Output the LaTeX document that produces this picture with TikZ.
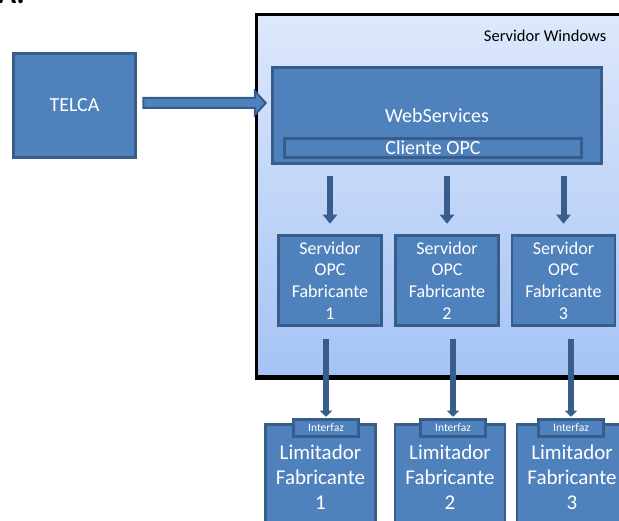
\documentclass[tikz,border=0pt]{standalone}
\usepackage{fontspec}
\setmainfont{Carlito}
\usetikzlibrary{arrows.meta,calc}

\definecolor{officeblue}{HTML}{4F81BD}
\definecolor{officeline}{HTML}{385D8A}
\definecolor{wintop}{HTML}{DDE8FB}
\definecolor{winbot}{HTML}{A5C3F5}

\newcommand{\fsz}[2]{\fontsize{#1}{#2}\selectfont}

\begin{document}
\begin{tikzpicture}[x=1pt,y=-1pt,
  blockbox/.style={draw=officeline, fill=officeblue, line width=2.5pt,
    text=white, inner sep=0pt, align=center},
  winframe/.style={draw=black, line width=3pt, top color=wintop,
    bottom color=winbot, inner sep=0pt},
  fatarrow/.style={draw=officeline, fill=officeblue, line width=2pt,
    line join=miter},
  feed/.style={draw=officeline, line width=6pt,
    -{Triangle[width=14pt,length=9pt]}, shorten <=11.5pt, shorten >=10.5pt},
  link/.style={draw=officeline, line width=5.5pt,
    -{Triangle[width=12pt,length=6pt]}, shorten <=12.5pt, shorten >=1.5pt}]

\useasboundingbox (0,0) rectangle (619,521);
\clip (0,0) rectangle (619,521);

% heading cut off at the top
\node[anchor=base west, inner sep=0pt, font=\bfseries\fsz{30}{36}] (head) at (-2,4) {A.};

% windows server frame
\node[winframe, minimum width=383.5pt, minimum height=362pt] (win) at (448.25,195.5) {};
\draw[line width=5pt] (win.south west) -- (win.south east);
\node[anchor=east, inner sep=0pt, font=\fsz{16.5}{20}] (winlabel) at (606.5,35.5) {Servidor Windows};

\node[blockbox, minimum width=122pt, minimum height=104pt, font=\fsz{20}{24}] (telca) at (74.5,105.5) {TELCA};

\node[blockbox, minimum width=329pt, minimum height=96pt, font=\fsz{20}{24}] (web) at (437,115.5) {WebServices};
\node[blockbox, minimum width=297pt, minimum height=19pt,
  label={[text=white, font=\fsz{20}{24}]center:Cliente OPC}] (cliente) at (433,148) {};

% opc servers and the limiters below
\foreach \i/\x in {1/330,2/447,3/563.5}
  \node[blockbox, minimum width=103pt, minimum height=90pt, font=\fsz{18}{21.7}] (opc\i) at (\x,280.5) {Servidor\\OPC\\Fabricante\\\i};

\foreach \i/\x/\tx in {1/320.5/326,2/450/453,3/572/571} {
  \node[blockbox, minimum width=110pt, minimum height=105pt, font=\fsz{21}{25}] (lim\i) at (\x,477) {Limitador\\Fabricante\\\i};
  \node[blockbox, minimum width=65pt, minimum height=17pt, font=\fsz{11.5}{13}] (tab\i) at (\tx,428) {Interfaz};
}

% telca to webservices
\coordinate (fa) at ($(telca.east)+(6.5,-2.5)$);
\coordinate (fb) at ($(web.west |- fa)+(-5.5,0)$);
\filldraw[fatarrow] ($(fa)+(0,-5)$) -- ($(fb)+(-11,-5)$) -- ($(fb)+(-11,-12)$) -- (fb)
  -- ($(fb)+(-11,12)$) -- ($(fb)+(-11,5)$) -- ($(fa)+(0,5)$) -- cycle;

\foreach \i in {1,2,3} {
  \draw[feed] (web.south -| opc\i.north) -- (opc\i.north);
  \draw[link] (tab\i.north |- opc\i.south) -- (tab\i.north);
}

\end{tikzpicture}
\end{document}
